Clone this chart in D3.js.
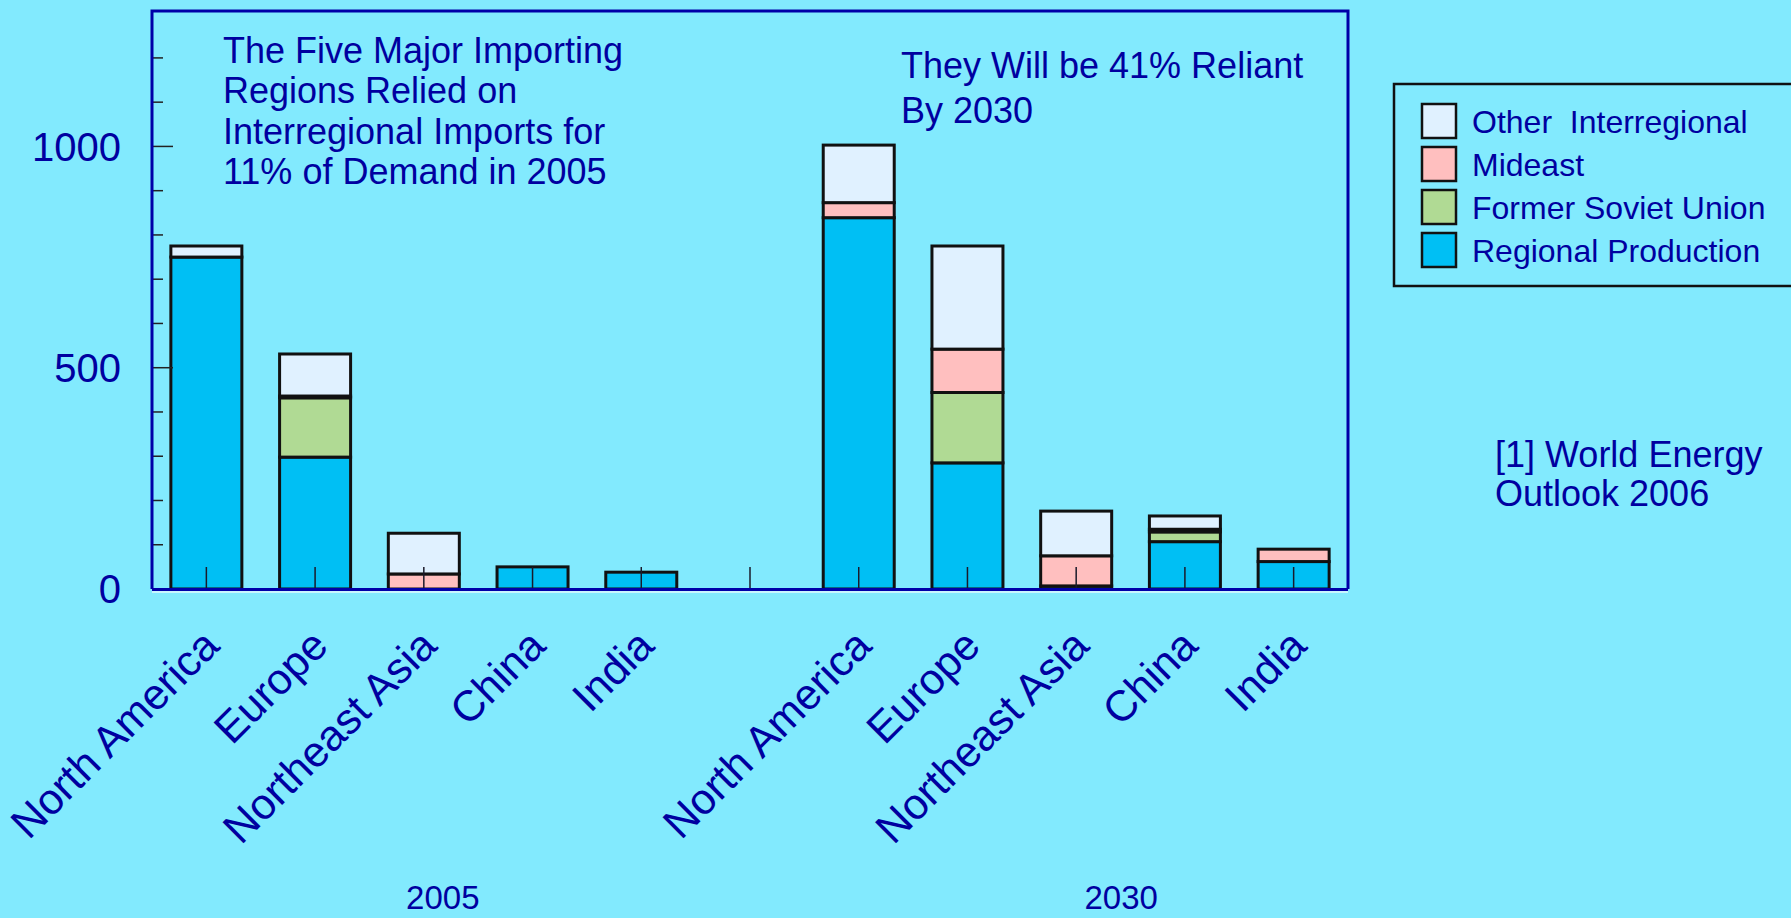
<!DOCTYPE html>
<html>
<head>
<meta charset="utf-8">
<script src="https://cdn.jsdelivr.net/npm/d3@7"></script>
<style>
    body { margin: 0; background: #82eafe; }
    text { font-family: "Liberation Sans", Arial, sans-serif; fill: #0000a0; }
</style>
</head>
<body>
<div id="chart"></div>
<script>
// values (Mb/d style units, stacked per region)
const regions = ["North America", "Europe", "Northeast Asia", "China", "India"];
const years = ["2005", "2030"];

const regional2005 = [750, 298, 0, 50, 38];
const fsu2005 = [0, 134, 0, 0, 0];
const mideast2005 = [0, 4, 34, 0, 0];
const other2005 = [25, 95, 92, 0, 0];

const regional2030 = [839, 285, 7, 107, 62];
const fsu2030 = [0, 159, 0, 22, 0];
const mideast2030 = [34, 98, 68, 6, 28];
const other2030 = [130, 233, 101, 30, 0];

const seriesKeys = ["regional", "fsu", "mideast", "other"];
const seriesLabels = ["Regional Production", "Former Soviet Union", "Mideast", "Other  Interregional"];
const seriesColors = ["#00bff4", "#b0da94", "#ffbfbf", "#e0f1ff"];

const yLabelTicks = [0, 500, 1000];
const yMinorTicks = d3.range(0, 1300, 100);

const title2005 = ["The Five Major Importing", "Regions Relied on", "Interregional Imports for", "11% of Demand in 2005"];
const title2030 = ["They Will be 41% Reliant", "By 2030"];
const sourceNote = ["[1] World Energy", "Outlook 2006"];

/**
 * builds one row per slot, with an empty slot between the two years
 */
function buildRows() {
    const byYear = {
        "2005": [regional2005, fsu2005, mideast2005, other2005],
        "2030": [regional2030, fsu2030, mideast2030, other2030]
    };
    var rows = [];
    years.forEach(function (yr, yi) {
        if (yi > 0) {
            rows.push({key: "gap", region: "", year: "", regional: 0, fsu: 0, mideast: 0, other: 0});
        }
        regions.forEach(function (r, i) {
            var row = {key: yr + "|" + r, region: r, year: yr};
            seriesKeys.forEach(function (s, si) {
                row[s] = byYear[yr][si][i];
            });
            rows.push(row);
        });
    });
    return rows;
}

function drawChart() {
    const width = 1791, height = 918;
    const plot = {left: 152, right: 1348, top: 11, bottom: 589};

    const svg = d3.select("#chart")
        .append("svg")
        .attr("width", width)
        .attr("height", height);

    svg.append("rect")
        .attr("width", width)
        .attr("height", height)
        .attr("fill", "#82eafe");

    const rows = buildRows();

    const x = d3.scaleBand()
        .domain(rows.map(function (d) { return d.key; }))
        .range([plot.left, plot.right])
        .paddingInner(0.347)
        .paddingOuter(0.1735);

    const y = d3.scaleLinear()
        .domain([0, 1306])
        .range([plot.bottom, plot.top]);

    const stacked = d3.stack().keys(seriesKeys)(rows);

    // stacked bars
    svg.append("g")
        .selectAll("g")
        .data(stacked)
        .join("g")
        .attr("fill", function (d, i) { return seriesColors[i]; })
        .selectAll("rect")
        .data(function (d) { return d.filter(function (p) { return p[1] - p[0] > 0; }); })
        .join("rect")
        .attr("x", function (d) { return x(d.data.key); })
        .attr("y", function (d) { return y(d[1]); })
        .attr("width", x.bandwidth())
        .attr("height", function (d) { return y(d[0]) - y(d[1]); })
        .attr("stroke", "#111")
        .attr("stroke-width", 3);

    // small category ticks inside the plot
    svg.append("g")
        .selectAll("line")
        .data(rows)
        .join("line")
        .attr("x1", function (d) { return x(d.key) + x.bandwidth() / 2; })
        .attr("x2", function (d) { return x(d.key) + x.bandwidth() / 2; })
        .attr("y1", plot.bottom)
        .attr("y2", plot.bottom - 22)
        .attr("stroke", "#1a1a2a")
        .attr("stroke-width", 1.5);

    // y ticks, long ones at the labelled values
    svg.append("g")
        .selectAll("line")
        .data(yMinorTicks)
        .join("line")
        .attr("x1", plot.left)
        .attr("x2", function (d) { return plot.left + (yLabelTicks.indexOf(d) >= 0 ? 21 : 11); })
        .attr("y1", function (d) { return y(d); })
        .attr("y2", function (d) { return y(d); })
        .attr("stroke", "#222")
        .attr("stroke-width", 1.5);

    svg.append("g")
        .selectAll("text")
        .data(yLabelTicks)
        .join("text")
        .attr("x", 121)
        .attr("y", function (d) { return y(d); })
        .attr("dy", "0.36em")
        .attr("text-anchor", "end")
        .attr("font-size", "40px")
        .text(function (d) { return d; });

    // plot frame
    svg.append("path")
        .attr("d", "M" + plot.left + "," + plot.bottom + "V" + plot.top + "H" + plot.right + "V" + plot.bottom)
        .attr("fill", "none")
        .attr("stroke", "#0000a8")
        .attr("stroke-width", 3);
    svg.append("line")
        .attr("x1", plot.left).attr("x2", plot.right)
        .attr("y1", plot.bottom + 0.5).attr("y2", plot.bottom + 0.5)
        .attr("stroke", "#0000a8")
        .attr("stroke-width", 3);
    svg.append("line")
        .attr("x1", plot.left).attr("x2", plot.right)
        .attr("y1", plot.bottom + 3).attr("y2", plot.bottom + 3)
        .attr("stroke", "#c8f6ff")
        .attr("stroke-width", 2);

    // rotated region labels
    svg.append("g")
        .selectAll("text")
        .data(rows.filter(function (d) { return d.region !== ""; }))
        .join("text")
        .attr("text-anchor", "end")
        .attr("font-size", "43px")
        .attr("transform", function (d) {
            var cx = x(d.key) + x.bandwidth() / 2 + 15;
            return "translate(" + cx + "," + (plot.bottom + 59) + ") rotate(-45)";
        })
        .text(function (d) { return d.region; });

    // year labels under each group
    svg.append("g")
        .selectAll("text")
        .data(years)
        .join("text")
        .attr("x", function (yr, i) {
            var mid = x(yr + "|" + regions[2]) + x.bandwidth() / 2;
            return mid + (i === 0 ? 19 : 45);
        })
        .attr("y", 909)
        .attr("text-anchor", "middle")
        .attr("font-size", "33px")
        .text(function (d) { return d; });

    // annotations
    svg.append("text")
        .attr("font-size", "36px")
        .selectAll("tspan")
        .data(title2005)
        .join("tspan")
        .attr("x", 223)
        .attr("y", function (d, i) { return 63 + i * 40.3; })
        .text(function (d) { return d; });

    svg.append("text")
        .attr("font-size", "36px")
        .selectAll("tspan")
        .data(title2030)
        .join("tspan")
        .attr("x", 901)
        .attr("y", function (d, i) { return 78 + i * 45; })
        .text(function (d) { return d; });

    svg.append("text")
        .attr("font-size", "36px")
        .selectAll("tspan")
        .data(sourceNote)
        .join("tspan")
        .attr("x", 1495)
        .attr("y", function (d, i) { return 467 + i * 39; })
        .text(function (d) { return d; });

    // legend, top entry is the top of the stack
    const legend = svg.append("g");
    legend.append("rect")
        .attr("x", 1394)
        .attr("y", 84)
        .attr("width", 420)
        .attr("height", 202)
        .attr("fill", "none")
        .attr("stroke", "#111")
        .attr("stroke-width", 2.5);

    const order = [3, 2, 1, 0];
    const item = legend.selectAll("g")
        .data(order)
        .join("g")
        .attr("transform", function (d, i) { return "translate(1422," + (104 + i * 43) + ")"; });
    item.append("rect")
        .attr("width", 34)
        .attr("height", 34)
        .attr("fill", function (d) { return seriesColors[d]; })
        .attr("stroke", "#111")
        .attr("stroke-width", 2.5);
    item.append("text")
        .attr("x", 50)
        .attr("y", 29)
        .attr("font-size", "32px")
        .style("white-space", "pre")
        .text(function (d) { return seriesLabels[d]; });
}

drawChart();
</script>
</body>
</html>
